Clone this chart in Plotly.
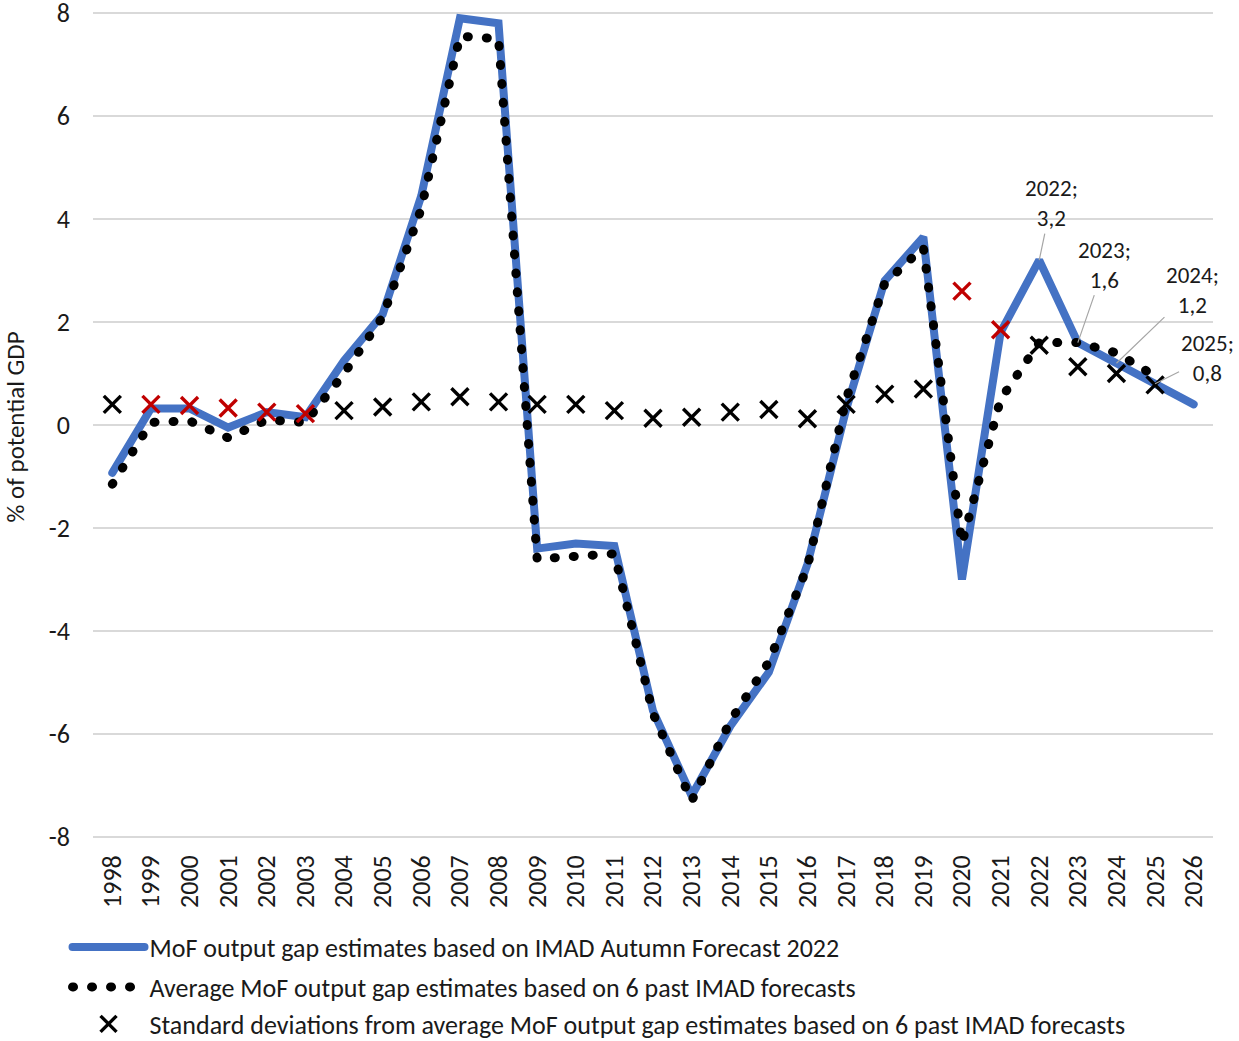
import plotly.graph_objects as go

years = list(range(1998, 2027))

mof_autumn_2022 = [-0.93, 0.32, 0.32, -0.05, 0.25, 0.15, 1.25, 2.15, 4.45, 7.9, 7.8,
                   -2.4, -2.3, -2.35, -5.55, -7.2, -5.85, -4.8, -2.7, 0.3, 2.8, 3.65,
                   -3.0, 1.8, 3.2, 1.6, 1.2, 0.8, 0.4]

avg_6_past = [-1.15, 0.05, 0.08, -0.25, 0.1, 0.05, 1.0, 2.1, 4.2, 7.55, 7.5,
              -2.6, -2.55, -2.5, -5.6, -7.3, -5.75, -4.6, -2.75, 0.5, 2.75, 3.45,
              -2.3, 0.5, 1.6, 1.6, 1.4, 0.95, None]

std_dev = [0.4, 0.4, 0.38, 0.33, 0.25, 0.22, 0.28, 0.35, 0.45, 0.55, 0.45,
           0.4, 0.4, 0.28, 0.13, 0.15, 0.25, 0.3, 0.12, 0.4, 0.6, 0.7,
           2.6, 1.85, 1.55, 1.13, 1.0, 0.78, None]

red_years = [1999, 2000, 2001, 2002, 2003, 2020, 2021]

y_ticks = [-8, -6, -4, -2, 0, 2, 4, 6, 8]
y_tick_labels = ["-8", "-6", "-4", "-2", "0", "2", "4", "6", "8"]

labels_years = [2022, 2023, 2024, 2025]
labels_text = ["2022;<br>3,2", "2023;<br>1,6", "2024;<br>1,2", "2025;<br>0,8"]
labels_offsets = [(12, -57), (27, -78), (76, -73), (52, -26)]

FONT = "Carlito, Lato, 'Open Sans', sans-serif"
TXT = "#1a1a1a"

marker_colors = ["#C00000" if y in red_years else "#000000" for y in years]

fig = go.Figure()
fig.add_trace(go.Scatter(
    x=years, y=mof_autumn_2022, mode="lines",
    name="MoF output gap estimates based on IMAD Autumn Forecast 2022",
    line=dict(color="#4472C4", width=8), legend="legend"))
fig.add_trace(go.Scatter(
    x=years, y=avg_6_past, mode="lines",
    name="Average MoF output gap estimates based on 6 past IMAD forecasts",
    line=dict(color="#000000", width=9, dash="1px,18px"), legend="legend2"))
fig.add_trace(go.Scatter(
    x=years, y=std_dev, mode="markers",
    name="Standard deviations from average MoF output gap estimates based on 6 past IMAD forecasts",
    marker=dict(symbol="x-thin", size=17, color=marker_colors,
                line=dict(width=3.4, color=marker_colors)), legend="legend3"))

for yr, txt, (ax, ay) in zip(labels_years, labels_text, labels_offsets):
    val = mof_autumn_2022[years.index(yr)]
    fig.add_annotation(x=yr, y=val, text=txt, showarrow=True, arrowhead=0,
                       arrowwidth=1.2, arrowcolor="#A6A6A6", ax=ax, ay=ay,
                       font=dict(family=FONT, size=23, color=TXT), align="center")

# y-axis title
fig.add_annotation(xref="paper", yref="paper", x=(15 - 93) / 1120, y=0.497,
                   text="% of potential GDP", textangle=-90, showarrow=False,
                   xanchor="center", yanchor="middle",
                   font=dict(family=FONT, size=25, color=TXT))

leg_common = dict(font=dict(family=FONT, size=26, color=TXT), bgcolor="rgba(0,0,0,0)",
                  xref="container", yref="container",
                  xanchor="left", yanchor="middle", itemwidth=72)

fig.update_layout(
    width=1239, height=1041,
    margin=dict(l=93, r=26, t=12, b=203, autoexpand=False),
    paper_bgcolor="white", plot_bgcolor="white",
    font=dict(family=FONT, size=26, color=TXT),
    showlegend=True,
    legend=dict(x=0.0545, y=1 - 947 / 1041, **leg_common),
    legend2=dict(x=0.0545, y=1 - 987 / 1041, **leg_common),
    legend3=dict(x=0.0545, y=1 - 1024 / 1041, **leg_common),
    xaxis=dict(range=[1997.5, 2026.5], tickmode="array", tickvals=years,
               ticktext=[str(y) for y in years], tickangle=-90,
               showgrid=False, showline=False, zeroline=False,
               ticks="", ticklabelstandoff=11,
               tickfont=dict(family=FONT, size=26, color=TXT)),
    yaxis=dict(range=[-8.02, 8.02], tickmode="array", tickvals=y_ticks, ticktext=y_tick_labels,
               showgrid=True, gridcolor="#D9D9D9", gridwidth=1.5,
               zeroline=True, zerolinecolor="#D9D9D9", zerolinewidth=1.5,
               showline=False, ticks="", ticklabelstandoff=22, ticklabeloverflow="allow",
               tickfont=dict(family=FONT, size=26, color=TXT)),
)

post = """
document.body.style.margin = '0';
document.body.style.padding = '0';
var gd = document.getElementById('{plot_id}');
function fix(){
  gd.querySelectorAll('path.js-line, .legendlines path').forEach(function(p){
    p.style.strokeLinecap = 'round';
  });
}
fix();
setTimeout(fix, 50);
setTimeout(fix, 300);
"""

fig.write_html("out.html", post_script=post, config={"displayModeBar": False})
